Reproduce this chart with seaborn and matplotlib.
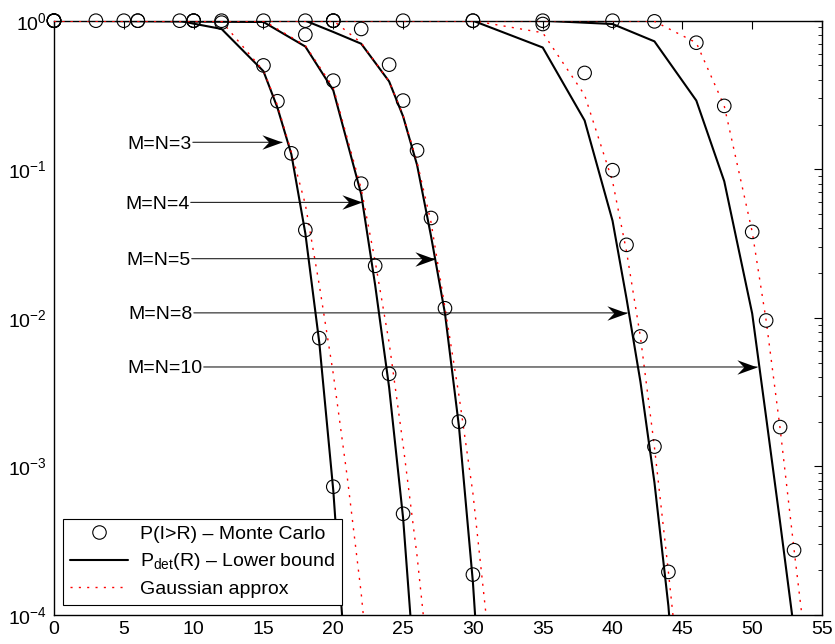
import numpy as np
import pandas as pd
import matplotlib
matplotlib.use("Agg")
import matplotlib.pyplot as plt
from matplotlib.lines import Line2D
from matplotlib.path import Path
from matplotlib.ticker import LogLocator, NullFormatter
import seaborn as sns

# ---- Monte Carlo estimates of P(I > R) ----
mc_r_3 = [0, 3, 6, 9, 12, 15, 16, 17, 18, 19, 20]
mc_p_3 = [1, 1, 1, 1, 0.97, 0.50, 0.287, 0.128, 0.039, 0.0073, 0.00073]

mc_r_4 = [0, 5, 10, 15, 18, 20, 22, 23, 24, 25]
mc_p_4 = [1, 1, 1, 1, 0.805, 0.395, 0.080, 0.0224, 0.0042, 0.00048]

mc_r_5 = [0, 6, 12, 18, 20, 22, 24, 25, 26, 27, 28, 29, 30]
mc_p_5 = [1, 1, 1, 1, 1, 0.88, 0.506, 0.29, 0.134, 0.047, 0.0116, 0.0020, 0.000187]

mc_r_8 = [0, 10, 20, 25, 30, 35, 38, 40, 41, 42, 43, 44]
mc_p_8 = [1, 1, 1, 1, 1, 0.95, 0.445, 0.0986, 0.031, 0.0075, 0.00136, 0.000195]

mc_r_10 = [0, 10, 20, 30, 35, 40, 43, 46, 48, 50, 51, 52, 53]
mc_p_10 = [1, 1, 1, 1, 1, 1, 0.99, 0.711, 0.267, 0.0379, 0.0096, 0.00184, 0.000273]

# ---- analytic curves: lower bound P_det(R) and Gaussian approximation ----
r_3 = [0, 9, 10, 12, 15, 16, 17, 18, 19, 20, 21, 22, 23]
pdet_3 = [1, 1, 0.955, 0.88, 0.457, 0.26, 0.126, 0.037, 0.0068, 0.00069, 3.2e-5, 8e-7, 1e-8]
gauss_3 = [1, 1, 1, 0.99, 0.46, 0.27, 0.13, 0.058, 0.0166, 0.0042, 0.00085, 0.00014, 1.5e-5]

r_4 = [0, 15, 18, 20, 22, 23, 24, 25, 26, 27]
pdet_4 = [1, 0.98, 0.67, 0.34, 0.068, 0.0166, 0.0034, 0.00045, 2.5e-5, 1e-6]
gauss_4 = [1, 1, 0.68, 0.355, 0.074, 0.024, 0.0068, 0.0014, 0.00025, 3.2e-5]

r_5 = [0, 18, 20, 22, 24, 25, 26, 27, 28, 29, 30, 31, 32]
pdet_5 = [1, 1, 0.84, 0.70, 0.39, 0.227, 0.107, 0.0355, 0.0107, 0.00186, 0.000166, 6.3e-6, 1e-7]
gauss_5 = [1, 1, 1, 0.71, 0.39, 0.23, 0.112, 0.044, 0.0117, 0.0030, 0.00066, 8.9e-5, 8e-6]

r_8 = [0, 30, 35, 38, 40, 41, 42, 43, 44, 45, 46]
pdet_8 = [1, 1, 0.66, 0.213, 0.045, 0.0135, 0.0037, 0.00078, 0.000115, 7.2e-6, 1e-7]
gauss_8 = [1, 1, 0.83, 0.316, 0.083, 0.028, 0.0074, 0.00135, 0.000195, 2.5e-5, 2e-6]

r_10 = [0, 35, 40, 43, 46, 48, 50, 51, 52, 53, 54]
pdet_10 = [1, 1, 0.95, 0.726, 0.29, 0.083, 0.0107, 0.00214, 0.00042, 7.9e-5, 5e-6]
gauss_10 = [1, 1, 1, 0.99, 0.71, 0.267, 0.038, 0.0096, 0.0018, 0.000275, 4.5e-5]

case_labels = ["M=N=3", "M=N=4", "M=N=5", "M=N=8", "M=N=10"]
legend_labels = ["P(I>R) \u2013 Monte Carlo",
                 "P$_{\\mathrm{det}}$(R) \u2013 Lower bound",
                 "Gaussian approx"]

mc_table = pd.concat([
    pd.DataFrame({"R": x, "P": p, "case": c})
    for x, p, c in zip([mc_r_3, mc_r_4, mc_r_5, mc_r_8, mc_r_10],
                       [mc_p_3, mc_p_4, mc_p_5, mc_p_8, mc_p_10], case_labels)
], ignore_index=True)

curve_table = pd.concat([
    pd.DataFrame({"R": x, "bound": b, "gauss": g, "case": c})
    for x, b, g, c in zip([r_3, r_4, r_5, r_8, r_10],
                          [pdet_3, pdet_4, pdet_5, pdet_8, pdet_10],
                          [gauss_3, gauss_4, gauss_5, gauss_8, gauss_10], case_labels)
], ignore_index=True)

# ---- style ----
sns.set_theme(style="white")
plt.rcParams["font.family"] = ["Liberation Sans", "DejaVu Sans"]
plt.rcParams.update({
    "mathtext.fontset": "custom",
    "mathtext.rm": "Liberation Sans",
    "mathtext.it": "Liberation Sans:italic",
    "mathtext.bf": "Liberation Sans:bold",
    "axes.edgecolor": "black",
    "axes.linewidth": 1.0,
    "xtick.color": "black",
    "ytick.color": "black",
    "text.color": "black",
})

FS = 14
DOTTED = (0, (1.5, 4.5))

fig = plt.figure(figsize=(8.35, 6.44), dpi=100)
ax = fig.add_axes([54 / 835, 1 - 615 / 644, 768 / 835, 594.3 / 644])

sns.scatterplot(data=mc_table, x="R", y="P", ax=ax, marker="o", s=95,
                facecolor="none", edgecolor="black", linewidth=0.8,
                legend=False, clip_on=False, zorder=4)
sns.lineplot(data=curve_table, x="R", y="bound", units="case", estimator=None,
             ax=ax, color="black", linewidth=1.5, legend=False, zorder=3)
sns.lineplot(data=curve_table, x="R", y="gauss", units="case", estimator=None,
             ax=ax, color="red", linewidth=1.0, linestyle=DOTTED,
             legend=False, zorder=3)

ax.set_yscale("log")
ax.set_xlim(0, 55)
ax.set_ylim(1e-4, 1)
ax.set_xticks(np.arange(0, 56, 5))
ax.yaxis.set_major_locator(LogLocator(base=10, numticks=10))
ax.yaxis.set_minor_locator(LogLocator(base=10, subs=np.arange(2, 10), numticks=20))
ax.yaxis.set_minor_formatter(NullFormatter())
ax.set_xlabel("")
ax.set_ylabel("")
ax.grid(False)
ax.tick_params(which="both", direction="in", top=True, right=True,
               labelsize=FS, colors="black")
ax.tick_params(which="major", length=5.5, width=0.8)
ax.tick_params(which="minor", length=3, width=0.6)
ax.tick_params(axis="x", pad=4.5)
ax.tick_params(axis="y", pad=5)

# ---- case annotations with arrows ----
text_end_x = [9.89, 9.74, 9.81, 9.96, 10.67]
text_y = [0.152, 0.0599, 0.0250, 0.0108, 0.00467]
tip_x = [16.33, 22.06, 27.29, 41.05, 50.36]

head = Path([(0, 0), (-1, 0.36), (-0.66, 0), (-1, -0.36), (0, 0)],
            [Path.MOVETO, Path.LINETO, Path.LINETO, Path.LINETO, Path.CLOSEPOLY])

for lab, tx, ty, hx in zip(case_labels, text_end_x, text_y, tip_x):
    ax.text(tx, ty, lab, ha="right", va="center_baseline", fontsize=FS, zorder=5)
    ax.annotate("", xy=(hx, ty), xytext=(tx + 0.05, ty),
                arrowprops=dict(arrowstyle="-", color="black", lw=0.7,
                                shrinkA=0, shrinkB=0), zorder=5)
    ax.plot([hx], [ty], marker=head, ms=29, color="black", mew=0,
            linestyle="none", zorder=5)

# ---- legend ----
handles = [
    Line2D([], [], ls="none", marker="o", ms=9.7, mfc="none", mec="black", mew=0.8),
    Line2D([], [], color="black", lw=1.5),
    Line2D([], [], color="red", lw=1.0, ls=DOTTED),
]
leg = ax.legend(handles, legend_labels, loc="lower left",
                bbox_to_anchor=(0.0117, 0.0168), borderaxespad=0,
                frameon=True, fancybox=False, edgecolor="black", framealpha=1,
                fontsize=FS, handlelength=3.0, handletextpad=0.6,
                labelspacing=0.42, borderpad=0.35)
leg.get_frame().set_linewidth(0.8)
leg.set_zorder(6)

fig.savefig("out.png", dpi=100)
